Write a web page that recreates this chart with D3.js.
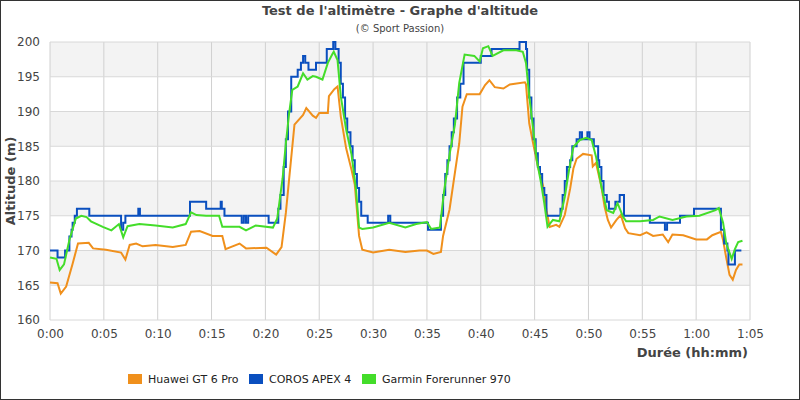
<!DOCTYPE html>
<html><head><meta charset="utf-8">
<script src="https://cdn.jsdelivr.net/npm/d3@7"></script>
<style>body{margin:0;background:#fff}svg{display:block;font-family:"DejaVu Sans",sans-serif}</style>
</head><body><svg id="c" width="800" height="400"></svg>
<script>
const seriesNames=["Huawei GT 6 Pro","COROS APEX 4","Garmin Forerunner 970"];
const colors=["#f0901c","#0a4fbf","#44dd2a"];
const xTicks=[0,5,10,15,20,25,30,35,40,45,50,55,60,65];
const yTicks=[160,165,170,175,180,185,190,195,200];
const huawei=[[0,165.4],[0.7,165.3],[1.0,163.8],[1.5,164.8],[2.1,168.1],[2.6,171.0],[3.6,171.1],[4.0,170.3],[5.2,170.1],[6.6,169.7],[7.0,168.7],[7.4,170.8],[8.0,171.0],[8.6,170.6],[9.8,170.8],[11.4,170.5],[12.6,170.8],[13.1,172.7],[13.9,172.8],[15.1,172.1],[16.0,172.1],[16.3,170.2],[17.6,171.0],[18.2,170.3],[20.1,170.4],[21.0,169.4],[21.5,170.5],[21.9,175.4],[22.2,180.2],[22.7,188.1],[23.5,189.5],[23.8,190.5],[24.4,189.4],[24.7,189.1],[25.0,189.8],[25.8,189.8],[25.9,192.2],[26.4,193.2],[26.7,193.6],[27.0,189.3],[27.5,184.7],[28.0,181.6],[28.3,179.5],[28.7,172.1],[29.0,170.1],[30,169.7],[31.5,170.1],[33,169.8],[34.3,170.0],[35,170.0],[35.6,169.5],[36.3,169.8],[36.5,172.1],[37.1,175.9],[37.6,181.2],[38.0,185.4],[38.3,190.7],[38.7,192.5],[39.9,192.5],[40.4,193.8],[40.8,194.5],[41.3,193.5],[42.1,193.3],[42.7,193.9],[44.1,194.2],[44.2,193.9],[44.5,188.3],[44.8,185.9],[45.3,182.1],[45.8,179.2],[46.1,175.8],[46.4,173.4],[47.0,173.7],[47.3,173.4],[47.8,175.1],[48.3,178.9],[48.6,181.8],[48.9,183.2],[49.5,183.9],[50.3,183.7],[50.4,182.1],[50.7,182.6],[51.2,179.2],[51.5,176.3],[51.8,174.4],[52.1,173.3],[52.6,174.4],[53.0,175.1],[53.4,173.2],[53.7,172.5],[54.8,172.2],[55.4,172.6],[56.0,172.1],[56.9,172.3],[57.4,171.2],[57.8,172.3],[58.8,172.2],[60,171.6],[61.0,171.6],[61.5,172.2],[62.3,172.7],[62.5,171.5],[62.8,168.9],[63.1,166.5],[63.4,165.8],[63.7,167.2],[64.0,168.0],[64.3,168.0]];
const coros=[[0,170],[0.7,169],[1.4,170],[1.8,172],[2.0,173],[2.1,174],[2.3,175],[2.5,176],[3.65,175],[6.6,173],[6.8,174],[7.0,175],[8.2,176],[8.35,175],[13.0,177],[14.5,176],[15.85,177],[15.95,176],[16.2,175],[17.8,174],[18.0,175],[18.2,174],[18.4,175],[20.3,174],[21.2,176],[21.4,178],[21.7,182],[21.9,186],[22.1,190],[22.4,195],[23.0,196],[23.3,197],[23.5,198],[23.7,197],[24.0,196],[24.7,197],[25.7,199],[26.3,200],[26.5,199],[26.8,197],[27.0,194],[27.2,192],[27.4,189],[27.6,187],[27.9,185],[28.1,183],[28.3,181],[28.5,179],[28.7,177],[28.9,175],[29.5,174],[31.4,175],[31.6,174],[35.1,173],[36.3,175],[36.5,178],[36.7,181],[36.9,183],[37.1,185],[37.3,187],[37.5,189],[37.8,192],[38.1,194],[38.4,197],[40.0,198],[41.0,199],[43.6,200],[44.2,199],[44.3,196],[44.5,192],[44.7,189],[44.9,186],[45.1,184],[45.3,182],[45.5,181],[45.7,179],[45.9,178],[46.1,175],[47.4,176],[47.6,178],[47.8,180],[48.0,182],[48.3,183],[48.5,185],[48.9,186],[49.2,187],[49.4,186],[49.9,187],[50.1,186],[50.5,185],[50.9,183],[51.0,182],[51.2,180],[51.4,178],[51.7,177],[51.9,176],[52.5,177],[52.9,178],[53.3,175],[55.7,174],[57.1,173],[57.3,174],[58.5,175],[59.8,176],[62.3,173],[62.6,171],[62.9,170],[63.0,168],[63.6,170],[64.2,170]];
const garmin=[[0,169],[0.6,168.8],[0.9,167.2],[1.3,168],[1.8,171.5],[2.4,174.6],[2.9,175],[3.4,174.8],[3.8,174.2],[4.9,173.4],[5.7,172.9],[6.4,173.8],[6.8,171.9],[7.2,173.5],[8.3,173.8],[9.8,173.6],[11.4,173.3],[12.6,173.8],[13.1,175.5],[13.6,175.1],[14.5,175],[15.7,175],[16.0,173.4],[17.6,173.4],[18.2,172.9],[19.1,173.6],[20.7,173.3],[21.1,174.6],[21.6,180.4],[21.9,185.4],[22.2,189.7],[22.5,193.1],[23.0,193.6],[23.5,195.5],[23.9,194.6],[24.4,195.1],[24.7,195],[25.3,194.6],[25.8,197],[26.2,198.2],[26.35,198.6],[26.7,197.4],[27.0,192.2],[27.5,187.4],[28.0,183.8],[28.4,179],[28.7,173.3],[29.0,173.1],[30,173.3],[31.5,174.0],[33,173.3],[34,173.8],[35,174.1],[35.4,173.1],[36.2,173.3],[36.6,178.6],[37.1,183.8],[37.6,188.1],[38.0,194.1],[38.5,198.2],[39.4,198.0],[39.9,197.2],[40.2,199.1],[40.7,199.4],[41.1,198.0],[42.1,198.8],[43.3,198.8],[43.9,198.6],[44.2,197.0],[44.5,192.2],[44.8,188.3],[45.2,183.0],[45.6,179.7],[45.9,176.8],[46.2,173.4],[46.7,174.4],[47.3,174.2],[47.8,177.7],[48.2,181.6],[48.6,184.9],[49.2,185.9],[49.8,186.2],[50.3,185.9],[50.7,183.5],[51.2,179.2],[51.7,175.8],[52.3,175.4],[52.7,176.8],[53.2,174.9],[53.5,174.2],[54.8,174.2],[56.0,174.4],[56.6,174.9],[57.8,174.4],[59.1,174.9],[60.3,175.0],[61.8,175.8],[62.1,176.1],[62.5,174.0],[62.8,171.0],[63.3,168.8],[63.6,170.2],[63.9,171.2],[64.3,171.4]];

const svg=d3.select("#c");
const L=50,R=750,T=42,B=320;
const x=d3.scaleLinear().domain([0,65]).range([L,R]);
const y=d3.scaleLinear().domain([160,200]).range([B,T]);
svg.append("rect").attr("x",0.5).attr("y",0.5).attr("width",799).attr("height",399).attr("fill","#fff").attr("stroke","#333");
for(let i=0;i<yTicks.length-1;i++){ if(i%2===1) svg.append("rect").attr("x",L).attr("y",y(yTicks[i+1])).attr("width",R-L).attr("height",y(yTicks[i])-y(yTicks[i+1])).attr("fill","#f3f3f3");}
const g=svg.append("g");
g.selectAll(".gx").data(xTicks).join("line").attr("x1",d=>x(d)).attr("x2",d=>x(d)).attr("y1",T).attr("y2",B).attr("stroke","#d0d0d0");
g.selectAll(".gy").data(yTicks).join("line").attr("x1",L).attr("x2",R).attr("y1",d=>y(d)).attr("y2",d=>y(d)).attr("stroke","#d8d8d8");
const fmt=m=>Math.floor(m/60)+":"+String(m%60).padStart(2,"0");
const xa=svg.append("g").attr("transform",`translate(0,${B})`).call(d3.axisBottom(x).tickValues(xTicks).tickFormat(fmt).tickSize(0).tickPadding(9));
const ya=svg.append("g").attr("transform",`translate(${L},0)`).call(d3.axisLeft(y).tickValues(yTicks).tickSize(0).tickPadding(10));
[xa,ya].forEach(a=>{a.select(".domain").remove();a.selectAll("text").attr("font-size",12).attr("fill","#444").attr("font-family","DejaVu Sans");});
const data=[huawei,coros,garmin];
const curves=[d3.curveLinear,d3.curveStepAfter,d3.curveLinear];
[0,1,2].forEach(i=>{
 svg.append("path").attr("d",d3.line().x(d=>x(d[0])).y(d=>y(d[1])).curve(curves[i])(data[i])).attr("fill","none").attr("stroke",colors[i]).attr("stroke-width",2);
});
svg.append("text").attr("x",400).attr("y",15).attr("text-anchor","middle").attr("font-size",13).attr("font-weight","bold").attr("fill","#444").text("Test de l'altimètre - Graphe d'altitude");
svg.append("text").attr("x",400).attr("y",32).attr("text-anchor","middle").attr("font-size",10).attr("fill","#444").text("(© Sport Passion)");
svg.append("text").attr("transform","translate(15,181) rotate(-90)").attr("text-anchor","middle").attr("font-size",13).attr("font-weight","bold").attr("fill","#444").text("Altitude (m)");
svg.append("text").attr("x",748).attr("y",357).attr("text-anchor","end").attr("font-size",13).attr("font-weight","bold").attr("fill","#444").text("Durée (hh:mm)");
const lx=[128,249,362];
seriesNames.forEach((n,i)=>{
 svg.append("rect").attr("x",lx[i]).attr("y",374).attr("width",14).attr("height",10).attr("fill",colors[i]);
 svg.append("text").attr("x",lx[i]+20).attr("y",383).attr("font-size",11).attr("fill","#222").text(n);
});
</script></body></html>
